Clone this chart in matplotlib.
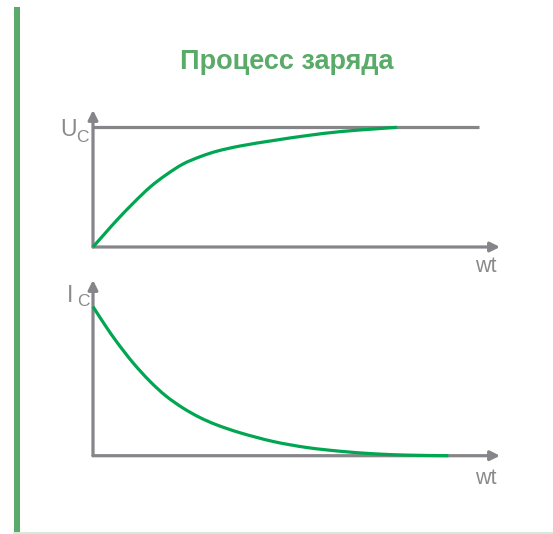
import numpy as np
import matplotlib
matplotlib.use("Agg")
import matplotlib.pyplot as plt
from matplotlib.patches import Rectangle, PathPatch
from matplotlib.path import Path
from matplotlib.lines import Line2D

# --- data -------------------------------------------------------------
title = "Процесс заряда"
x_label = "wt"

# capacitor voltage during charging (fraction of the source voltage)
wt_u = [0, 0.4, 0.78, 1.32, 1.88, 2.40, 2.96, 3.52, 4.07, 4.84, 5.94, 7.04,
        8.13, 9.23, 10.0]
u_c = [0, 0.115, 0.223, 0.365, 0.501, 0.602, 0.693, 0.754, 0.800, 0.844,
       0.890, 0.931, 0.964, 0.986, 1.0]

# charging current (fraction of the initial current)
wt_i = [0, 0.4, 0.78, 1.32, 1.88, 2.40, 2.97, 3.52, 4.07, 4.84, 5.94, 7.04,
        8.13, 9.23, 10.33, 11.70]
i_c = [1.0, 0.875, 0.764, 0.623, 0.498, 0.401, 0.319, 0.256, 0.207, 0.154,
       0.095, 0.055, 0.030, 0.013, 0.004, 0.0]

u_level = 1.0        # source voltage level
u_level_end = 12.7   # horizontal extent of the level line
wt_max = 13.4

# --- styling ----------------------------------------------------------
W, H = 553, 534
GREEN = "#00a651"
TITLE_GREEN = "#5aab69"
GRAY = "#86868a"
LABEL_GRAY = "#8a8a8a"
FONT = "Liberation Sans"

fig = plt.figure(figsize=(W / 100, H / 100), dpi=100)
fig.patch.set_facecolor("white")


def fx(px):
    return px / W


def fy(py):
    return 1 - py / H


def make_axes(left, top, right, bottom):
    return fig.add_axes([fx(left), fy(bottom), fx(right) - fx(left),
                         (bottom - top) / H])


def arrow_axes(ax):
    for s in ax.spines.values():
        s.set_visible(False)
    ax.set_xticks([])
    ax.set_yticks([])
    ax.patch.set_alpha(0)
    props = dict(arrowstyle="-|>", color=GRAY, lw=2.3, mutation_scale=14,
                 shrinkA=0, shrinkB=0)
    ax.annotate("", xy=(1, 0), xytext=(0, 0), xycoords="axes fraction",
                textcoords="axes fraction", arrowprops=props, zorder=2)
    ax.annotate("", xy=(0, 1), xytext=(0, 0), xycoords="axes fraction",
                textcoords="axes fraction", arrowprops=props, zorder=2)


def smooth_curve(ax, xs, ys, **kw):
    """Draw a smooth cubic Hermite (Bezier) path through the given points."""
    x = np.asarray(xs, float)
    y = np.asarray(ys, float)
    n = len(x)
    m = np.empty(n)
    m[0] = (y[1] - y[0]) / (x[1] - x[0])
    m[-1] = (y[-1] - y[-2]) / (x[-1] - x[-2])
    for k in range(1, n - 1):
        m[k] = (y[k + 1] - y[k - 1]) / (x[k + 1] - x[k - 1])
    verts = [(x[0], y[0])]
    codes = [Path.MOVETO]
    for k in range(n - 1):
        d = (x[k + 1] - x[k]) / 3.0
        verts += [(x[k] + d, y[k] + m[k] * d),
                  (x[k + 1] - d, y[k + 1] - m[k + 1] * d),
                  (x[k + 1], y[k + 1])]
        codes += [Path.CURVE4] * 3
    patch = PathPatch(Path(verts, codes), facecolor="none", **kw)
    patch.set_clip_on(False)
    ax.add_patch(patch)


# voltage panel
ax1 = make_axes(93, 110, 500, 247)
ax1.set_xlim(0, wt_max)
ax1.set_ylim(0, 1.145)
arrow_axes(ax1)
ax1.plot([0, u_level_end], [u_level, u_level], color=GRAY, lw=2.3,
         solid_capstyle="butt", zorder=2, clip_on=False)
smooth_curve(ax1, wt_u, u_c, edgecolor=GREEN, lw=2.3, zorder=3,
             capstyle="butt")

# current panel
ax2 = make_axes(93, 280, 500, 455.7)
ax2.set_xlim(0, wt_max)
ax2.set_ylim(0, 1.179)
arrow_axes(ax2)
smooth_curve(ax2, wt_i, i_c, edgecolor=GREEN, lw=2.3, zorder=3,
             capstyle="butt")

# title
fig.text(fx(286.5), fy(69), title, ha="center", va="baseline",
         fontsize=19.5, fontweight="bold", color=TITLE_GREEN, family=FONT)

# axis labels
fig.text(fx(60), fy(136.5), "U", ha="left", va="baseline", fontsize=16.5,
         color=LABEL_GRAY, family=FONT)
fig.text(fx(76.5), fy(141.5), "C", ha="left", va="baseline", fontsize=12.5,
         color=LABEL_GRAY, family=FONT)
fig.text(fx(67), fy(302), "I", ha="left", va="baseline", fontsize=16.5,
         color=LABEL_GRAY, family=FONT)
fig.text(fx(77), fy(306), "C", ha="left", va="baseline", fontsize=12.5,
         color=LABEL_GRAY, family=FONT)
fig.text(fx(485.5), fy(272.5), x_label, ha="center", va="baseline",
         fontsize=15.5, color=LABEL_GRAY, family=FONT)
fig.text(fx(485.5), fy(484), x_label, ha="center", va="baseline",
         fontsize=15.5, color=LABEL_GRAY, family=FONT)

# frame accents: green bar at the left, faint rule at the bottom
fig.add_artist(Rectangle((fx(14), fy(532)), fx(6), (532 - 7) / H,
                         transform=fig.transFigure, facecolor="#5aab6a",
                         edgecolor="none"))
fig.add_artist(Line2D([fx(14), 1], [fy(532.8), fy(532.8)],
                      transform=fig.transFigure, color="#cfe6d3", lw=1.2))

fig.savefig("out.png", dpi=100, facecolor="white")
